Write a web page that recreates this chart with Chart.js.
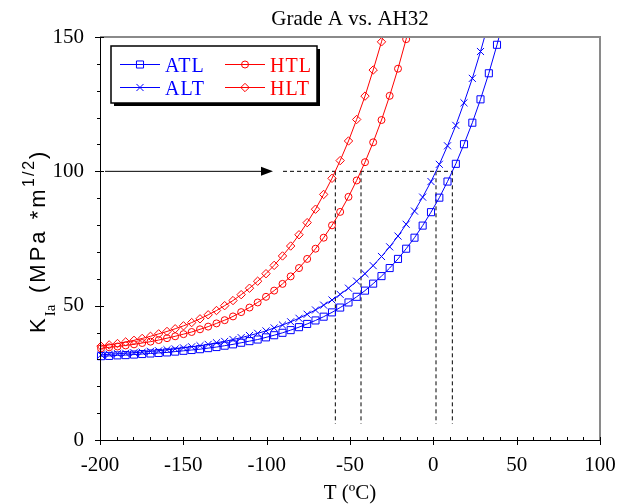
<!DOCTYPE html>
<html>
<head>
<meta charset="utf-8">
<script src="https://cdn.jsdelivr.net/npm/chart.js@4/dist/chart.umd.min.js"></script>
<style>
  html, body { margin: 0; padding: 0; background: #fff; }
  canvas { display: block; }
</style>
</head>
<body>
<canvas id="kia" width="628" height="504"></canvas>
<script>
// temperatures of the computed points (deg C)
var temps = [-199.4, -194.5, -189.5, -184.6, -179.6, -174.7, -169.7, -164.8, -159.8, -154.9,
  -149.9, -145.0, -140.0, -135.1, -130.1, -125.2, -120.2, -115.3, -110.3, -105.4,
  -100.4, -95.5, -90.5, -85.6, -80.6, -75.7, -70.7, -65.8, -60.8, -55.9,
  -50.9, -46.0, -41.0, -36.1, -31.1, -26.2, -21.2, -16.3, -11.3, -6.4,
  -1.4, 3.6, 8.5, 13.5, 18.4, 23.4, 28.3, 33.3, 38.2, 43.2];

// K_Ia values, MPa*m^1/2
var atl = [31.2, 31.3, 31.5, 31.6, 31.8, 32.0, 32.2, 32.4, 32.6, 32.9,
  33.2, 33.5, 33.8, 34.2, 34.6, 35.1, 35.6, 36.2, 36.8, 37.4,
  38.2, 39.0, 39.9, 40.9, 42.0, 43.2, 44.5, 45.9, 47.5, 49.3,
  51.2, 53.3, 55.6, 58.2, 61.0, 64.0, 67.4, 71.2, 75.3, 79.8,
  84.8, 90.2, 96.2, 102.8, 110.1, 118.1, 126.8, 136.5, 147.1, 158.8];
var alt = [31.7, 31.9, 32.1, 32.3, 32.5, 32.7, 33.0, 33.2, 33.6, 33.9,
  34.3, 34.7, 35.1, 35.6, 36.2, 36.7, 37.4, 38.1, 38.9, 39.7,
  40.6, 41.7, 42.8, 44.0, 45.3, 46.8, 48.4, 50.2, 52.1, 54.2,
  56.5, 59.1, 61.9, 64.9, 68.3, 71.9, 75.9, 80.3, 85.2, 90.4,
  96.2, 102.6, 109.5, 117.1, 125.5, 134.6, 144.6, 155.6];
var htl = [34.1, 34.5, 34.8, 35.2, 35.6, 36.1, 36.6, 37.2, 37.9, 38.6,
  39.4, 40.2, 41.2, 42.2, 43.4, 44.6, 46.0, 47.6, 49.3, 51.2,
  53.3, 55.6, 58.1, 60.9, 64.0, 67.4, 71.2, 75.3, 79.9, 84.9,
  90.5, 96.6, 103.4, 110.8, 119.1, 128.1, 138.2, 149.2, 161.4];
var hlt = [34.9, 35.4, 35.9, 36.5, 37.1, 37.8, 38.6, 39.5, 40.4, 41.4,
  42.5, 43.7, 45.1, 46.6, 48.2, 50.0, 51.9, 54.1, 56.5, 59.1,
  61.9, 65.0, 68.5, 72.2, 76.4, 80.9, 85.9, 91.4, 97.4, 104.0,
  111.3, 119.3, 128.0, 137.7, 148.2, 159.8];

// reference toughness and the temperatures where each curve reaches it
var refK = 100;
var crossT = [-58.8, -43.4, 1.6, 11.4];
var crossFromK = 6;
var arrowFrom = -197, arrowTo = -96.2, dashFrom = -90.2;

var xTicks = [-200, -150, -100, -50, 0, 50, 100];
var yTicks = [0, 50, 100, 150];

var serif = "'Liberation Serif', 'Times New Roman', serif";
var sans = "'Liberation Sans', Arial, sans-serif";
var BLUE = '#0000ff', RED = '#ff0000';

var toPts = function(vals) {
	return vals.map(function(v, i) { return {x: temps[i], y: v}; });
};

// hide markers of the points that only carry the line past the top
var radiusUpTo = function(r) {
	return function(c) { return (c.raw && c.raw.y > 150) ? 0 : r; };
};

var series = function(label, vals, colour, style, r) {
	return {
		label: label,
		data: toPts(vals),
		borderColor: colour,
		borderWidth: 1,
		pointStyle: style,
		pointRadius: radiusUpTo(r),
		pointBorderColor: colour,
		pointBackgroundColor: 'rgba(0,0,0,0)',
		pointBorderWidth: 1,
		tension: 0,
		clip: {left: 8, right: 0, top: 0, bottom: 8}
	};
};

var guide = function(pts, dashed) {
	return {
		data: pts,
		borderColor: '#000',
		borderWidth: 1,
		borderDash: dashed ? [4, 3] : [],
		pointRadius: 0,
		tension: 0
	};
};

var datasets = [
	series('ATL', atl, BLUE, 'rect', 5),
	series('ALT', alt, BLUE, 'crossRot', 5),
	series('HTL', htl, RED, 'circle', 3.5),
	series('HLT', hlt, RED, 'rectRot', 4.2),
	guide([{x: arrowFrom, y: refK}, {x: arrowTo - 6, y: refK}], false),
	guide([{x: dashFrom, y: refK}, {x: crossT[3], y: refK}], true)
];
crossT.forEach(function(t) {
	datasets.push(guide([{x: t, y: refK}, {x: t, y: crossFromK}], true));
});

var drawMarker = function(ctx, style, x, y, r) {
	ctx.beginPath();
	if (style === 'rect') {
		var s = r * Math.SQRT1_2;
		ctx.rect(x - s, y - s, 2 * s, 2 * s);
	} else if (style === 'circle') {
		ctx.arc(x, y, r, 0, Math.PI * 2);
	} else if (style === 'rectRot') {
		ctx.moveTo(x - r, y); ctx.lineTo(x, y - r); ctx.lineTo(x + r, y); ctx.lineTo(x, y + r); ctx.closePath();
	} else if (style === 'crossRot') {
		var d = r * Math.SQRT1_2;
		ctx.moveTo(x - d, y - d); ctx.lineTo(x + d, y + d);
		ctx.moveTo(x + d, y - d); ctx.lineTo(x - d, y + d);
	}
	ctx.stroke();
};

var decor = {
	id: 'decor',
	afterDatasetsDraw: function(chart) {
		var ctx = chart.ctx, xs = chart.scales.x, ys = chart.scales.y;
		// arrow head on the reference line
		var tx = xs.getPixelForValue(arrowTo), ty = ys.getPixelForValue(refK);
		ctx.save();
		ctx.fillStyle = '#000';
		ctx.beginPath();
		ctx.moveTo(tx, ty);
		ctx.lineTo(tx - 12, ty - 4.5);
		ctx.lineTo(tx - 12, ty + 4.5);
		ctx.closePath();
		ctx.fill();
		ctx.restore();
	},
	afterDraw: function(chart) {
		var ctx = chart.ctx, a = chart.chartArea, xs = chart.scales.x, ys = chart.scales.y;
		ctx.save();

		// frame: grey top/right, black axes
		ctx.strokeStyle = '#8a8a8a';
		ctx.lineWidth = 2;
		ctx.beginPath();
		ctx.moveTo(a.left, a.top); ctx.lineTo(a.right, a.top); ctx.lineTo(a.right, a.bottom);
		ctx.stroke();
		ctx.strokeStyle = '#000';
		ctx.lineWidth = 1;
		ctx.beginPath();
		ctx.moveTo(a.left + 0.5, a.top); ctx.lineTo(a.left + 0.5, a.bottom + 0.5); ctx.lineTo(a.right, a.bottom + 0.5);
		ctx.stroke();

		// tick marks
		ctx.beginPath();
		var v, p;
		for (v = -200; v <= 100; v += 10) {
			p = Math.round(xs.getPixelForValue(v)) + 0.5;
			if (v % 50 === 0) { ctx.moveTo(p, a.bottom - 3); ctx.lineTo(p, a.bottom + 5); }
			else { ctx.moveTo(p, a.bottom - 3); ctx.lineTo(p, a.bottom); }
		}
		for (v = 0; v <= 150; v += 10) {
			p = Math.round(ys.getPixelForValue(v)) + 0.5;
			if (v % 50 === 0) { ctx.moveTo(a.left - 5, p); ctx.lineTo(a.left + 4, p); }
			else { ctx.moveTo(a.left - 3, p); ctx.lineTo(a.left, p); }
		}
		ctx.stroke();

		// title
		ctx.fillStyle = '#000';
		ctx.textAlign = 'center';
		ctx.textBaseline = 'alphabetic';
		ctx.font = '21px ' + serif;
		ctx.fillText('Grade A vs. AH32', (a.left + a.right) / 2, 25);

		// x title
		ctx.fillText('T (\u00baC)', (a.left + a.right) / 2, 499);

		// y title, rotated, with subscript and superscript
		ctx.save();
		ctx.translate(45, 333);
		ctx.rotate(-Math.PI / 2);
		ctx.textAlign = 'left';
		ctx.font = '22px ' + sans;
		ctx.fillText('K', 0, 0);
		var kw = ctx.measureText('K').width;
		ctx.font = '15px ' + serif;
		ctx.fillText('Ia', kw + 2, 10);
		ctx.font = '22px ' + sans;
		ctx.letterSpacing = '3px';
		ctx.fillText('(MPa *m', 40, 0);
		ctx.font = '16px ' + sans;
		ctx.letterSpacing = '2px';
		ctx.fillText('1/2', 146, -11);
		ctx.font = '22px ' + sans;
		ctx.letterSpacing = '0px';
		ctx.fillText(')', 174, 0);
		ctx.restore();

		// legend box with drop shadow
		var bx = 111, by = 46, bw = 206, bh = 57;
		ctx.fillStyle = '#000';
		ctx.fillRect(bx + 3, by + 3, bw, bh);
		ctx.fillStyle = '#fff';
		ctx.fillRect(bx, by, bw, bh);
		ctx.strokeStyle = '#000';
		ctx.lineWidth = 1.5;
		ctx.strokeRect(bx, by, bw, bh);

		var entries = [
			{text: 'ATL', c: BLUE, s: 'rect', r: 5, x: 120, y: 64},
			{text: 'ALT', c: BLUE, s: 'crossRot', r: 5, x: 120, y: 87},
			{text: 'HTL', c: RED, s: 'circle', r: 3.5, x: 225, y: 64},
			{text: 'HLT', c: RED, s: 'rectRot', r: 4.2, x: 225, y: 87}
		];
		ctx.textAlign = 'left';
		ctx.font = '20px ' + serif;
		ctx.lineWidth = 1;
		entries.forEach(function(e) {
			ctx.strokeStyle = e.c;
			ctx.beginPath();
			ctx.moveTo(e.x, e.y + 0.5); ctx.lineTo(e.x + 40, e.y + 0.5);
			ctx.stroke();
			drawMarker(ctx, e.s, e.x + 20, e.y + 0.5, e.r);
			ctx.fillStyle = e.c;
			ctx.letterSpacing = '1px';
			ctx.fillText(e.text, e.x + 45, e.y + 7.5);
		});
		ctx.restore();
	}
};

var config = {
	type: 'line',
	data: { datasets: datasets },
	options: {
		responsive: false,
		animation: false,
		devicePixelRatio: 1,
		layout: { padding: {left: 0, right: 28, top: 37, bottom: 0} },
		plugins: { legend: {display: false}, tooltip: {enabled: false} },
		scales: {
			x: {
				type: 'linear',
				min: -200, max: 100,
				afterBuildTicks: function(s) { s.ticks = xTicks.map(function(v) { return {value: v}; }); },
				afterFit: function(s) { s.height = 64; },
				grid: {display: false},
				border: {display: false},
				ticks: {
					color: '#000', padding: 5, maxRotation: 0, autoSkip: false,
					font: {family: serif, size: 21},
					callback: function(v) { return String(v); }
				}
			},
			y: {
				type: 'linear',
				min: 0, max: 150,
				afterBuildTicks: function(s) { s.ticks = yTicks.map(function(v) { return {value: v}; }); },
				afterFit: function(s) { s.width = 100; },
				grid: {display: false},
				border: {display: false},
				ticks: {
					color: '#000', padding: 8,
					font: {family: serif, size: 21},
					callback: function(v) { return String(v); }
				}
			}
		}
	},
	plugins: [decor]
};

var ctx = document.getElementById('kia').getContext('2d');
window.kiaChart = new Chart(ctx, config);
</script>
</body>
</html>
